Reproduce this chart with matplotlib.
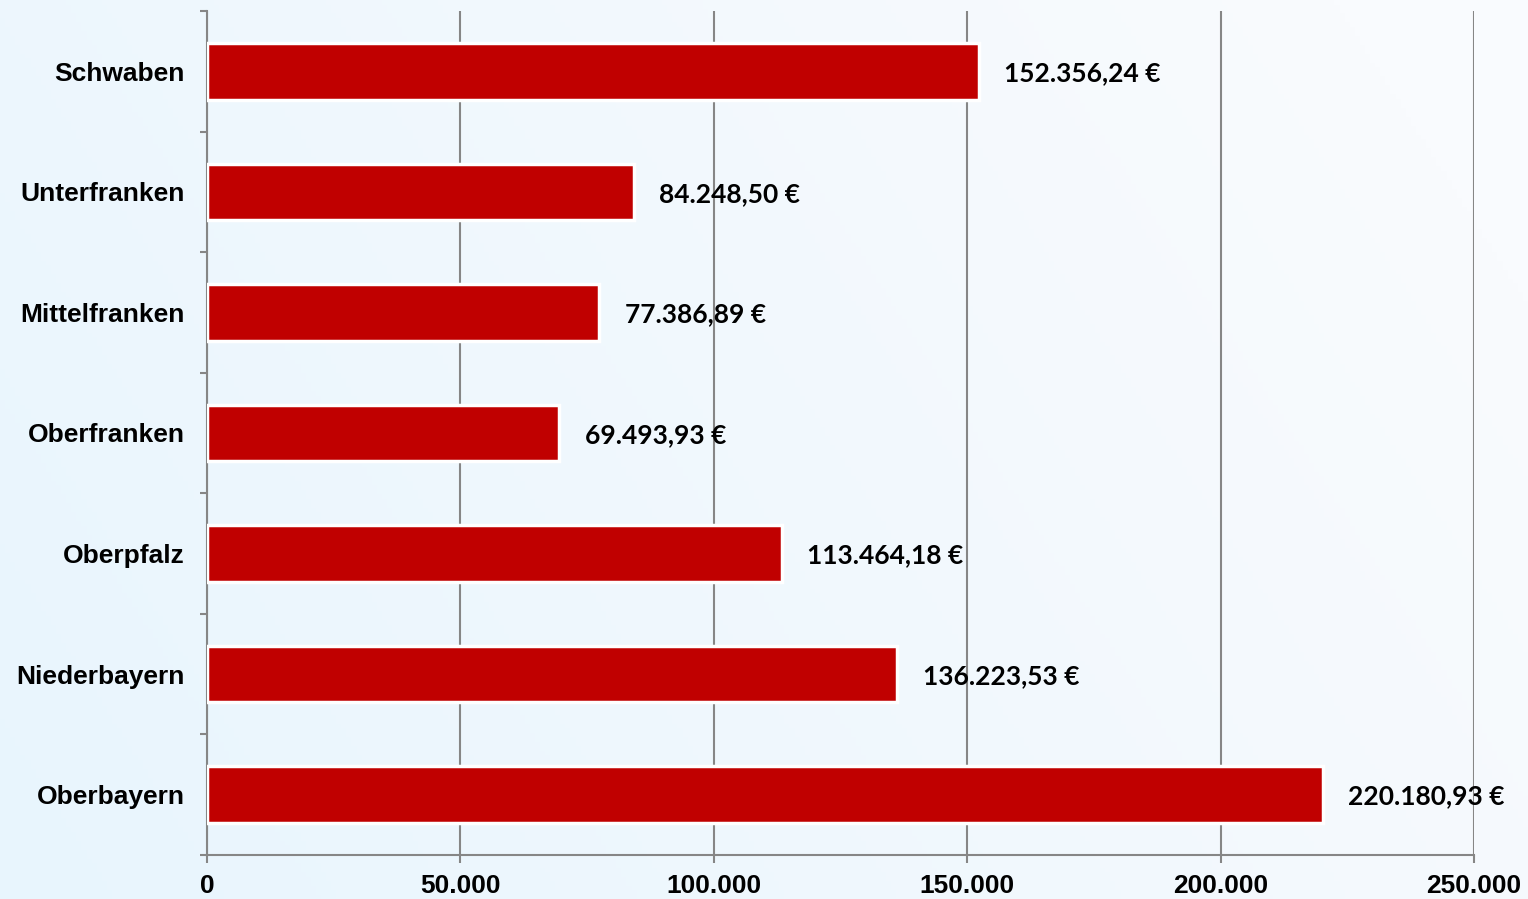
import numpy as np
import matplotlib.pyplot as plt
from matplotlib.ticker import FixedLocator, FuncFormatter

# data, listed bottom to top
regions = ["Oberbayern", "Niederbayern", "Oberpfalz", "Oberfranken",
           "Mittelfranken", "Unterfranken", "Schwaben"]
amounts = [220180.93, 136223.53, 113464.18, 69493.93,
           77386.89, 84248.50, 152356.24]
x_ticks = [0, 50000, 100000, 150000, 200000, 250000]


def de_number(v, decimals=0):
    s = f"{v:,.{decimals}f}"
    return s.replace(",", "X").replace(".", ",").replace("X", ".")


fig = plt.figure(figsize=(15.28, 8.99), dpi=100)

# soft blue gradient background
bg = fig.add_axes([0, 0, 1, 1], zorder=-10)
xx, yy = np.meshgrid(np.linspace(0, 1, 300), np.linspace(0, 1, 200))
t = np.clip(0.8 * xx + 0.3 * yy, 0, 1)
c0 = np.array([0xe8, 0xf5, 0xfd]) / 255
c1 = np.array([0xf9, 0xfb, 0xfe]) / 255
img = c0[None, None, :] * (1 - t[..., None]) + c1[None, None, :] * t[..., None]
bg.imshow(img, aspect="auto", origin="lower", extent=[0, 1, 0, 1])
bg.axis("off")

ax = fig.add_axes([207 / 1528, 44 / 899, 1267 / 1528, 844 / 899])
ax.patch.set_alpha(0)

y = np.arange(len(regions))
ax.barh(y, amounts, height=0.47, color="#c00000", edgecolor="white",
        linewidth=2.5, zorder=3)

for yi, v in zip(y, amounts):
    ax.text(v + 5000, yi - 0.015, de_number(v, 2) + " €", va="center",
            ha="left", fontsize=19, fontweight="bold", family="Lato",
            color="black", zorder=4)

ax.set_xlim(0, 250000)
ax.set_ylim(-0.5, len(regions) - 0.5)

ax.set_xticks(x_ticks)
ax.xaxis.set_major_formatter(FuncFormatter(lambda v, p: de_number(v)))
ax.grid(axis="x", color="#868686", linewidth=1.5, zorder=1)

ax.set_yticks(y)
ax.set_yticklabels(regions)
ax.yaxis.set_minor_locator(FixedLocator(np.arange(-0.5, len(regions), 1.0)))

for s in ["top", "right"]:
    ax.spines[s].set_visible(False)
for s in ["left", "bottom"]:
    ax.spines[s].set_color("#868686")
    ax.spines[s].set_linewidth(1.5)

ax.tick_params(axis="y", which="major", length=0, pad=16)
ax.tick_params(axis="y", which="minor", length=5, width=1.5, color="#868686")
ax.tick_params(axis="x", length=6, width=1.5, color="#868686", pad=8)
for lab in ax.get_xticklabels() + ax.get_yticklabels():
    lab.set_fontsize(19)
    lab.set_fontweight("bold")
    lab.set_family("Liberation Sans")

fig.savefig("out.png", dpi=100)
